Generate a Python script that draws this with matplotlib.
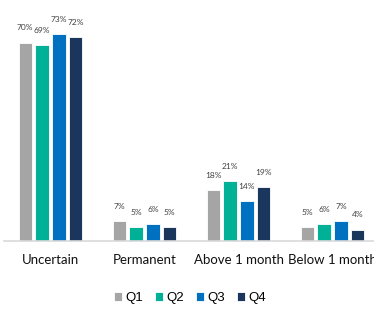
import matplotlib.pyplot as plt
import numpy as np

categories = ['Uncertain', 'Permanent', 'Above 1 month', 'Below 1 month']
quarters = ['Q1', 'Q2', 'Q3', 'Q4']
q1 = [70, 7, 18, 5]
q2 = [69, 5, 21, 6]
q3 = [73, 6, 14, 7]
q4 = [72, 5, 19, 4]
colors = ['#A5A5A5', '#00B097', '#0070C0', '#1B365D']

plt.rcParams['font.family'] = ['Lato', 'DejaVu Sans']

fig = plt.figure(figsize=(3.74, 3.10), dpi=100)
# axes spans a bit past the right edge, so the last label is cut like the original
ax = fig.add_axes([3.5 / 374, 1 - 241 / 310, 376 / 374, 241 / 310])

x = np.arange(len(categories))
width = 0.14
step = 0.18
series = [q1, q2, q3, q4]
for i, (vals, c, name) in enumerate(zip(series, colors, quarters)):
    pos = x + (i - 1.5) * step
    ax.bar(pos, vals, width, color=c, edgecolor='white', linewidth=0.6, label=name)
    for p, v in zip(pos, vals):
        ax.text(p, v + 5.2, f'{v}%', ha='center', va='center', fontsize=6, color='#404040')

ax.set_xlim(-0.5, 3.5)
ax.set_ylim(0, 85)
ax.set_xticks(x)
ax.set_xticklabels(categories, fontsize=9.5, color='#111111')
ax.tick_params(axis='x', length=0, pad=9)
ax.set_yticks([])
for s in ['top', 'right', 'left']:
    ax.spines[s].set_visible(False)
ax.spines['bottom'].set_color('#D9D9D9')
ax.spines['bottom'].set_linewidth(1.2)

fig.legend(loc='center', bbox_to_anchor=(190 / 374, 1 - 298 / 310), ncol=4, frameon=False,
           prop={'family': 'Liberation Sans', 'size': 9.5},
           handlelength=0.6, handleheight=0.6, handletextpad=0.25, columnspacing=0.9)

fig.savefig('out.png', dpi=100)
